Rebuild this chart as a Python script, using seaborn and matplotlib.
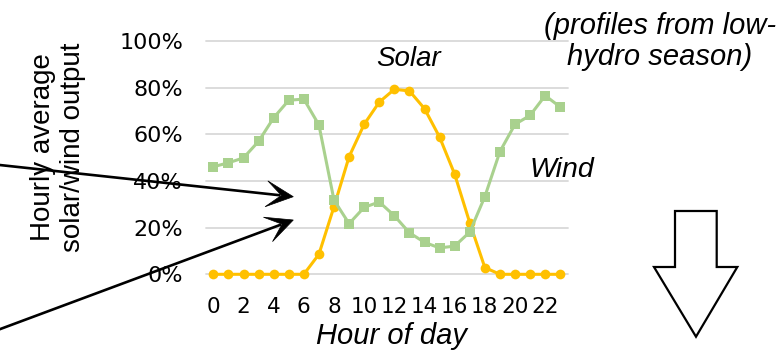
import numpy as np
import pandas as pd
import matplotlib
matplotlib.use("Agg")
import matplotlib.pyplot as plt
from matplotlib.patches import Polygon
from matplotlib.lines import Line2D
import seaborn as sns

# Hourly capacity-factor profiles (fraction of rated output), low-hydro season
hours = list(range(24))
solar = [0.0, 0.0, 0.0, 0.0, 0.0, 0.0, 0.0, 0.086, 0.290, 0.504, 0.643, 0.738,
         0.793, 0.786, 0.710, 0.588, 0.429, 0.221, 0.029, 0.0, 0.0, 0.0, 0.0, 0.0]
wind = [0.461, 0.478, 0.499, 0.570, 0.671, 0.746, 0.751, 0.640, 0.318, 0.217,
        0.287, 0.310, 0.251, 0.178, 0.137, 0.113, 0.121, 0.181, 0.333, 0.526,
        0.643, 0.681, 0.766, 0.717]
y_ticks = [0.0, 0.2, 0.4, 0.6, 0.8, 1.0]
y_tick_labels = ["0%", "20%", "40%", "60%", "80%", "100%"]
x_ticks = list(range(0, 24, 2))

SOLAR_COLOR = "#FFC000"
WIND_COLOR = "#A9D18E"
GRID_COLOR = "#D9D9D9"

W, H = 784, 351
sns.set_theme(style="white")
plt.rcParams["font.family"] = ["DejaVu Sans"]
plt.rcParams["text.color"] = "black"

fig = plt.figure(figsize=(W / 100, H / 100), dpi=100)


def px(x, y):
    """Figure pixel position (origin top-left) -> figure fraction."""
    return x / W, 1 - y / H


left, right, top, bottom = 205.8, 567.8, 41.0, 274.3
ax = fig.add_axes([left / W, 1 - bottom / H, (right - left) / W, (bottom - top) / H])

df = pd.DataFrame({"hour": hours, "solar": solar, "wind": wind})

sns.lineplot(data=df, x="hour", y="solar", ax=ax, color=SOLAR_COLOR, lw=2.2,
             marker="o", markersize=7.0, markeredgewidth=0,
             markeredgecolor=SOLAR_COLOR, clip_on=False, zorder=3)
sns.lineplot(data=df, x="hour", y="wind", ax=ax, color=WIND_COLOR, lw=2.2,
             marker="s", markersize=6.6, markeredgewidth=0,
             markeredgecolor=WIND_COLOR, clip_on=False, zorder=4)

ax.set_xlim(-0.5, 23.5)
ax.set_ylim(0, 1)
ax.set_yticks(y_ticks)
ax.set_yticklabels(y_tick_labels)
ax.set_xticks(x_ticks)
ax.set_xticklabels([str(h) for h in x_ticks])
ax.tick_params(axis="y", length=0, pad=16.4, labelsize=16, labelcolor="black")
ax.tick_params(axis="x", length=0, pad=16.5, labelsize=15.5, labelcolor="black")
ax.set_xlabel("")
ax.set_ylabel("")
for s in ax.spines.values():
    s.set_visible(False)
for yv in y_ticks:
    ax.axhline(yv, color=GRID_COLOR, lw=1.3, zorder=1, clip_on=False)
ax.set_facecolor("none")

txt_font = ["Liberation Sans", "DejaVu Sans"]

fig.text(*px(391.7, 344.3), "Hour of day", ha="center", va="baseline",
         fontsize=21, style="italic", family=txt_font)
fig.text(*px(58, 147), "Hourly average\nsolar/wind output", ha="center",
         va="center", rotation=90, multialignment="center", linespacing=1.22,
         fontsize=20, family=txt_font)
fig.text(*px(409, 66), "Solar", ha="center", va="baseline", fontsize=20,
         style="italic", family=txt_font)
fig.text(*px(562, 176.7), "Wind", ha="center", va="baseline", fontsize=20.5,
         style="italic", family=txt_font)
fig.text(*px(660, 65.0), "(profiles from low-\nhydro season)", ha="center",
         va="baseline", multialignment="center", linespacing=1.12, fontsize=21,
         style="italic", family=txt_font)


def stealth_arrow(x0, y0, x1, y1, length=27, half_width=13, notch=12, lw=1.9):
    """Black line ending in a notched arrow head, pixel coordinates."""
    d = np.array([x1 - x0, y1 - y0], dtype=float)
    d /= np.hypot(*d)
    n = np.array([-d[1], d[0]])
    tip = np.array([x1, y1], dtype=float)
    back = tip - d * length
    wing1 = back + n * half_width
    wing2 = back - n * half_width
    nk = tip - d * notch
    shaft_end = tip - d * (notch + 1)
    fig.add_artist(Line2D([x0 / W, shaft_end[0] / W],
                          [1 - y0 / H, 1 - shaft_end[1] / H],
                          transform=fig.transFigure, color="black", lw=lw,
                          solid_capstyle="butt", zorder=10))
    pts = [px(*tip), px(*wing1), px(*nk), px(*wing2)]
    fig.add_artist(Polygon(pts, closed=True, transform=fig.transFigure,
                           facecolor="black", edgecolor="black", lw=0.5, zorder=10))


stealth_arrow(-5, 164.5, 293.3, 196.7)
stealth_arrow(-5, 331.0, 293.3, 220.0)

# Hollow block arrow pointing down
block = [(675, 211), (716.7, 211), (716.7, 267), (737.3, 267), (696, 336.7),
         (654, 267), (675, 267)]
fig.add_artist(Polygon([px(*p) for p in block], closed=True,
                       transform=fig.transFigure, facecolor="white",
                       edgecolor="black", lw=1.6, joinstyle="miter", zorder=10))

fig.savefig("out.png", dpi=100)
